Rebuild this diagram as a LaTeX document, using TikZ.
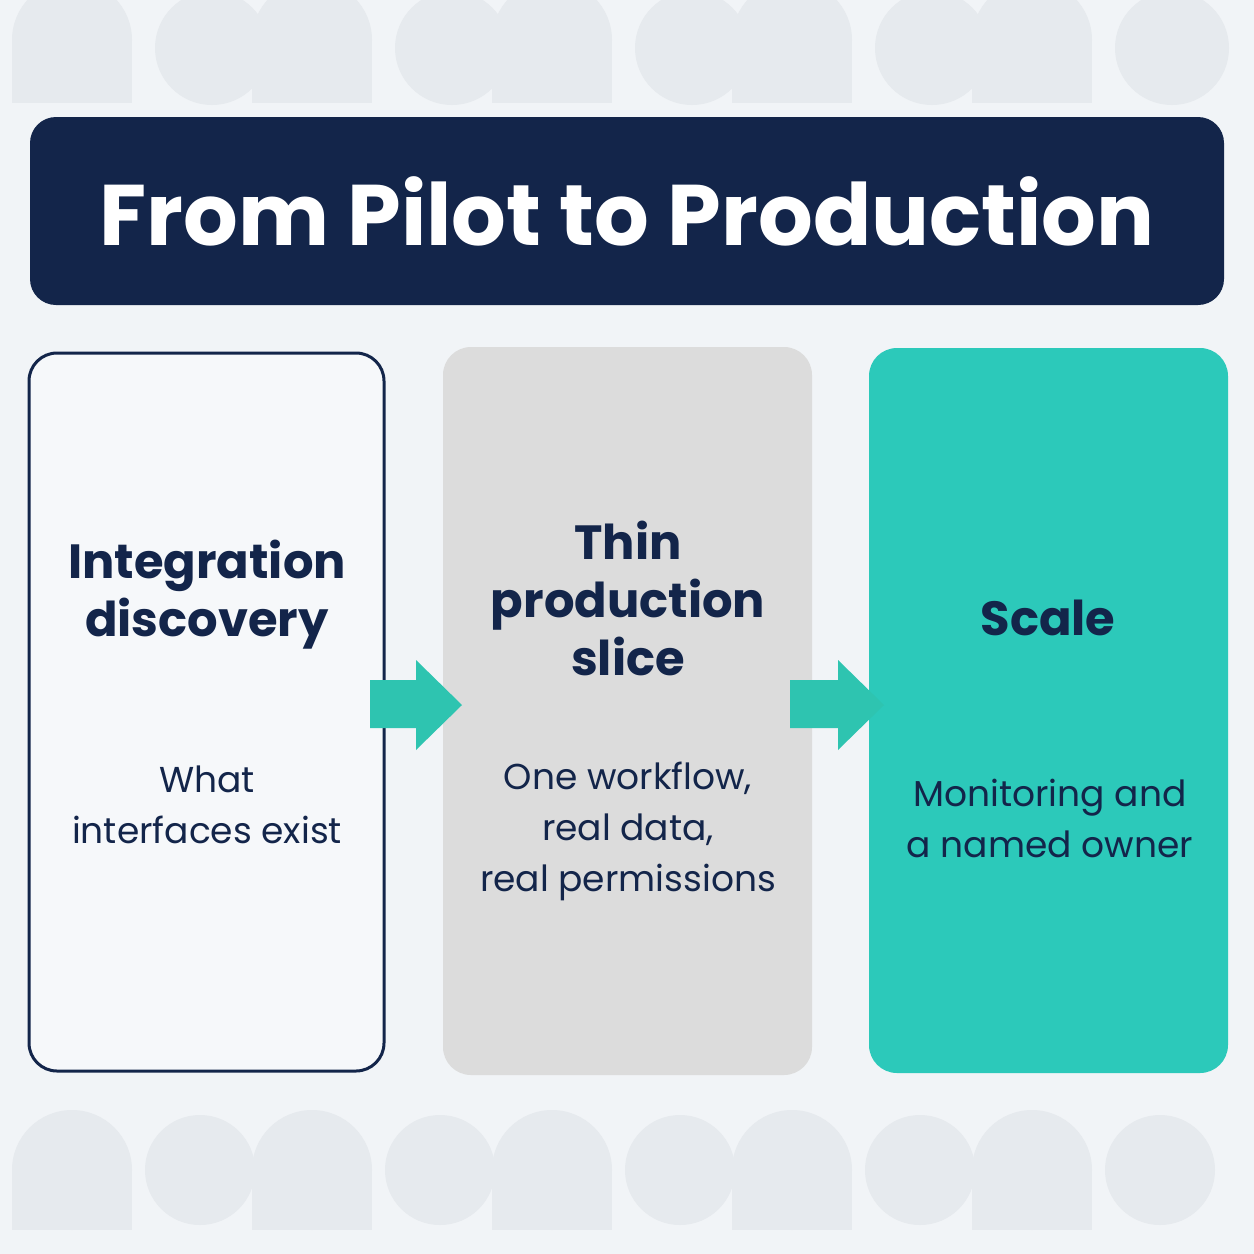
\documentclass[tikz,border=0pt]{standalone}
\usepackage{fontspec}
\setmainfont{Poppins}
\definecolor{bg}{HTML}{F1F4F7}
\definecolor{pat}{HTML}{E6EAEE}
\definecolor{navy}{HTML}{13254A}
\definecolor{teal}{HTML}{2CC9BA}
\definecolor{arr}{HTML}{2EC4B0}
\definecolor{grey}{HTML}{DCDCDC}
\definecolor{white2}{HTML}{F6F8FA}
\begin{document}
\begin{tikzpicture}[x=1pt,y=-1pt,
  card/.style={rounded corners=28pt},
  head/.style={font=\fontsize{48}{58}\selectfont\bfseries,text=navy,align=center},
  sub/.style={font=\fontsize{36}{51}\selectfont,text=navy,align=center},
  arrow/.style={fill=arr}]
\fill[bg] (0,0) rectangle (1254,1254);
\useasboundingbox (0,0) rectangle (1254,1254);
% background pattern
\foreach \i in {0,...,4}{
  \fill[pat] (12+\i*240,103) rectangle (132+\i*240,40);
  \fill[pat] (72+\i*240,40) circle[radius=60];
  \fill[pat] (212+\i*240,48) circle[radius=57];
  \fill[pat] (12+\i*240,1230) rectangle (132+\i*240,1170);
  \fill[pat] (72+\i*240,1170) circle[radius=60];
  \fill[pat] (200+\i*240,1170) circle[radius=55];
}
\node[fill=navy,rounded corners=26pt,minimum width=1194pt,minimum height=188pt] (title) at (627,211) {};
\node[font=\fontsize{86}{90}\selectfont\bfseries,text=white] (tt) at (title) {From Pilot to Production};
\node[card,draw=navy,line width=3pt,fill=white2,minimum width=355pt,minimum height=718pt] (b1) at (206.5,712) {};
\node[card,fill=grey,minimum width=369pt,minimum height=728pt] (b2) at (627.5,711) {};
\node[card,fill=teal,minimum width=359pt,minimum height=725pt] (b3) at (1048.5,710.5) {};
\node[head] (h1) at (207,595) {Integration\\discovery};
\node[sub] (s1) at (207,805) {What\\interfaces exist};
\node[head] (h2) at (628,598) {Thin\\production\\slice};
\node[sub] (s2) at (628,831) {One workflow,\\real data,\\real permissions};
\node[head] (h3) at (1048,618) {Scale};
\node[sub] (s3) at (1050,818) {Monitoring and\\a named owner};
\fill[arrow] (370,680) -- (416,680) -- (416,660) -- (462,705) -- (416,750) -- (416,728) -- (370,728) -- cycle;
\fill[arrow] (790,680) -- (838,680) -- (838,660) -- (884,705) -- (838,750) -- (838,728) -- (790,728) -- cycle;
\end{tikzpicture}
\end{document}
